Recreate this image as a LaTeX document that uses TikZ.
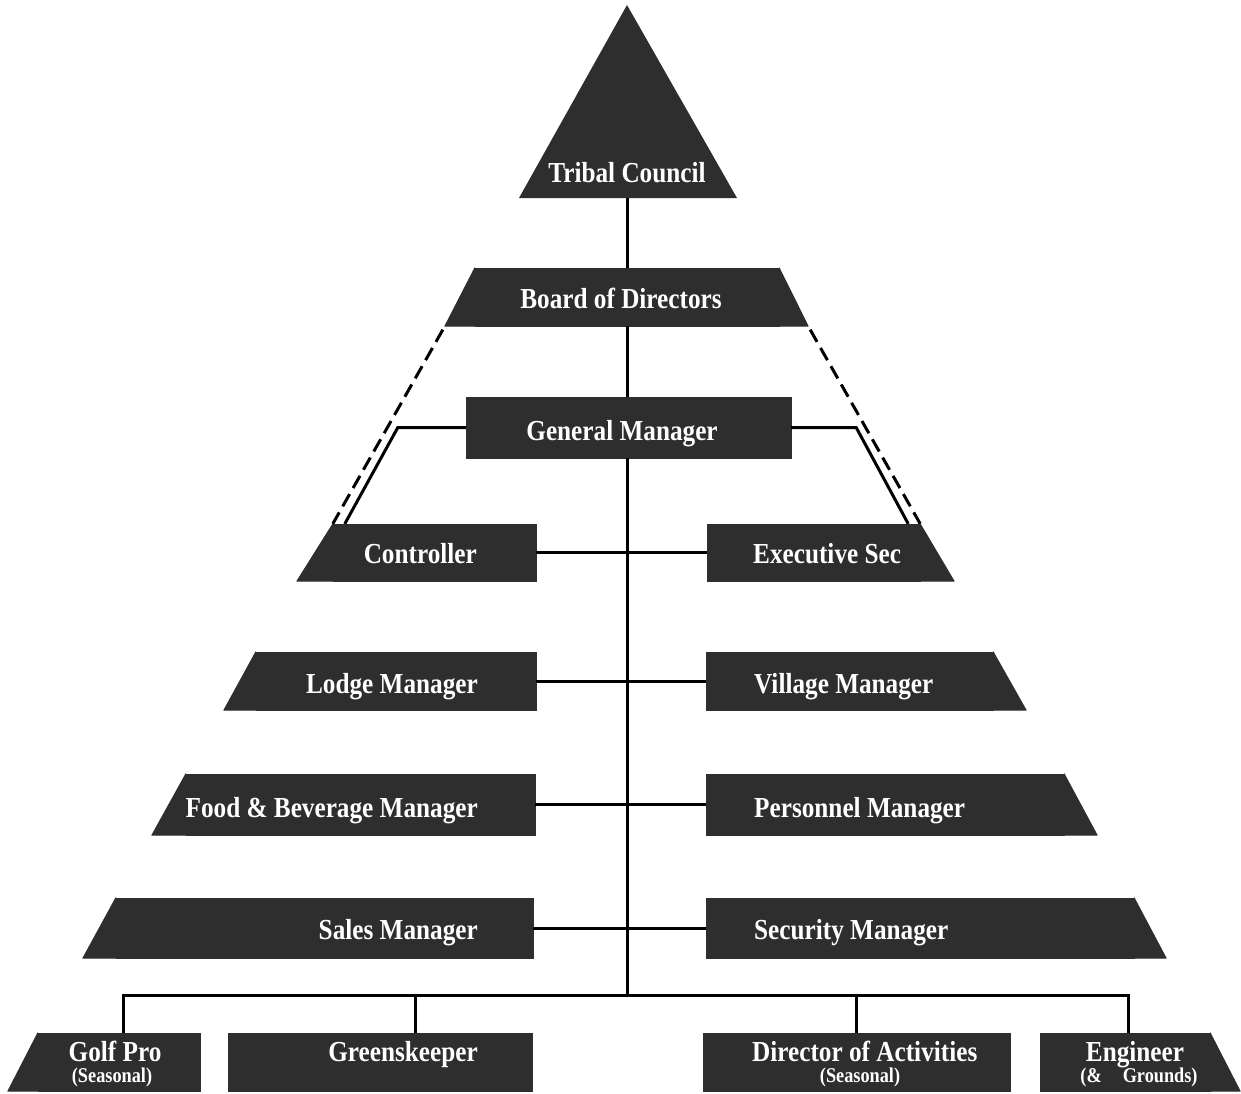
\documentclass[tikz,border=0pt]{standalone}
\usepackage{fontspec}
\setmainfont{Liberation Serif}[FakeStretch=0.87]
\definecolor{boxgray}{HTML}{2E2E2E}
\tikzset{
  orgbox/.style={rectangle, fill=boxgray, draw=boxgray, line width=0.4pt, inner sep=0pt, minimum height=58pt},
  slant/.style={fill=boxgray, draw=boxgray, line width=0.8pt, line join=round},
  boxtext/.style={text=white, inner sep=0pt, font=\bfseries\fontsize{29}{30}\selectfont},
  subtext/.style={text=white, inner sep=0pt, font=\bfseries\fontsize{21}{22}\selectfont},
  link/.style={line width=3pt},
  dashlink/.style={line width=3pt, dash pattern=on 14pt off 7pt}
}
\begin{document}
\begin{tikzpicture}[x=1pt, y=-1pt]
	\useasboundingbox (0,0) rectangle (1241,1093);

	% Tribal Council
	\fill[boxgray] (627,5) -- (737,198) -- (519,198) -- cycle;
	\coordinate (tribal) at (627,198);
	\node[boxtext, anchor=base] (tribaltext) at (627,182) {Tribal Council};

	% Board of Directors
	\node[orgbox, minimum width=304pt] (board) at (627,297) {};
	\filldraw[slant] (board.north west) -- (board.south west) -- ++(-30,0) coordinate (boardsw) -- cycle;
	\filldraw[slant] (board.north east) -- (board.south east) -- ++(29,0) coordinate (boardse) -- cycle;
	\node[boxtext, anchor=base] (boardtext) at (621,308) {Board of Directors};

	% General Manager
	\node[orgbox, minimum width=325pt, minimum height=61pt] (gm) at (628.5,427.5) {};
	\node[boxtext, anchor=base] (gmtext) at (622,440) {General Manager};

	% Controller / Executive Sec
	\node[orgbox, minimum width=203pt, minimum height=57pt] (ctrl) at (434.5,552.5) {};
	\filldraw[slant] (ctrl.north west) -- (ctrl.south west) -- ++(-36,0) -- cycle;
	\node[boxtext, anchor=base east] (ctrltext) at (477,563) {Controller};
	\node[orgbox, minimum width=213pt, minimum height=57pt] (exec) at (813.5,552.5) {};
	\filldraw[slant] (exec.north east) -- (exec.south east) -- ++(34,0) -- cycle;
	\node[boxtext, anchor=base west] (exectext) at (753,563) {Executive Sec};

	% Lodge / Village
	\node[orgbox, minimum width=280pt] (lodge) at (396,681) {};
	\filldraw[slant] (lodge.north west) -- (lodge.south west) -- ++(-32,0) -- cycle;
	\node[boxtext, anchor=base east] (lodgetext) at (478,693) {Lodge Manager};
	\node[orgbox, minimum width=287pt] (village) at (849.5,681) {};
	\filldraw[slant] (village.north east) -- (village.south east) -- ++(33,0) -- cycle;
	\node[boxtext, anchor=base west] (villagetext) at (754,693) {Village Manager};

	% Food & Beverage / Personnel
	\node[orgbox, minimum width=349pt, minimum height=61pt] (food) at (360.5,804.5) {};
	\filldraw[slant] (food.north west) -- (food.south west) -- ++(-34,0) -- cycle;
	\node[boxtext, anchor=base east] (foodtext) at (478,817) {Food \& Beverage Manager};
	\node[orgbox, minimum width=358pt, minimum height=61pt] (pers) at (885,804.5) {};
	\filldraw[slant] (pers.north east) -- (pers.south east) -- ++(33,0) -- cycle;
	\node[boxtext, anchor=base west] (perstext) at (754,817) {Personnel Manager};

	% Sales / Security
	\node[orgbox, minimum width=417pt, minimum height=60pt] (sales) at (324.5,928) {};
	\filldraw[slant] (sales.north west) -- (sales.south west) -- ++(-33,0) -- cycle;
	\node[boxtext, anchor=base east] (salestext) at (478,939) {Sales Manager};
	\node[orgbox, minimum width=428pt, minimum height=60pt] (secur) at (920,928) {};
	\filldraw[slant] (secur.north east) -- (secur.south east) -- ++(32,0) -- cycle;
	\node[boxtext, anchor=base west] (securtext) at (754,939) {Security Manager};

	% bottom row
	\node[orgbox, minimum width=162pt] (golf) at (119,1062) {};
	\filldraw[slant] (golf.north west) -- (golf.south west) -- ++(-30,0) -- cycle;
	\node[boxtext, anchor=base] (golftext) at (115,1061) {Golf Pro};
	\node[subtext, anchor=base] (golfsub) at (112,1082) {(Seasonal)};

	\node[orgbox, minimum width=304pt] (green) at (380,1062) {};
	\node[boxtext, anchor=base east] (greentext) at (478,1061) {Greenskeeper};

	\node[orgbox, minimum width=307pt] (dir) at (856.5,1062) {};
	\node[boxtext, anchor=base west] (dirtext) at (752,1061) {Director of Activities};
	\node[subtext, anchor=base] (dirsub) at (860,1082) {(Seasonal)};

	\node[orgbox, minimum width=170pt] (eng) at (1125,1062) {};
	\filldraw[slant] (eng.north east) -- (eng.south east) -- ++(30,0) -- cycle;
	\node[boxtext, anchor=base] (engtext) at (1135,1061) {Engineer};
	\node[subtext, anchor=base] (engsub) at (1139,1082) {(\&\quad Grounds)};

	% connectors
	\coordinate (hub) at (627,995);
	\draw[link] (tribal) -- (board.north);
	\draw[link] (board.south) -- (board.south |- gm.north);
	\draw[link] (board.south |- gm.south) -- (hub);
	\draw[dashlink, shorten <=4pt] (boardsw) -- (ctrl.north west);
	\draw[dashlink, shorten <=4pt] (boardse) -- (exec.north east);
	\draw[link] (gm.west) -- ++(-68,0) -- ([xshift=12pt]ctrl.north west);
	\draw[link] (gm.east) -- ++(65,0) -- ([xshift=-12pt]exec.north east);
	\draw[link] (ctrl.east) -- (exec.west);
	\draw[link] (lodge.east) -- (village.west);
	\draw[link] (food.east) -- (pers.west);
	\draw[link] (sales.east) -- (secur.west);
	\draw[link] ([xshift=4pt]golf.north) |- ([xshift=3pt]eng.north |- hub) -- ([xshift=3pt]eng.north);
	\draw[link] ([xshift=35pt]green.north) -- ([xshift=35pt]green.north |- hub);
	\draw[link] (dir.north) -- (dir.north |- hub);
\end{tikzpicture}
\end{document}
